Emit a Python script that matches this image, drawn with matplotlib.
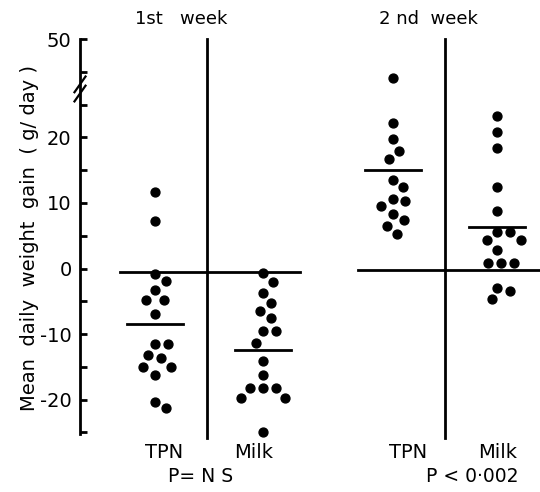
import numpy as np
import matplotlib.pyplot as plt

# values (g/day); axis is broken above 25
tpn_w1 = [11.7, 7.3, -0.8, -1.9, -3.3, -4.8, -4.8, -7.0, -11.5, -11.5,
          -13.2, -13.7, -15.0, -15.0, -16.3, -20.3, -21.3]
milk_w1 = [-0.7, -2.0, -3.7, -5.3, -6.5, -7.6, -9.6, -9.6, -11.3, -14.1,
           -16.3, -18.3, -18.3, -18.3, -19.8, -19.8, -24.9]
tpn_w2 = [29.0, 22.2, 19.7, 18.0, 16.7, 13.5, 12.4, 10.6, 10.3, 9.6,
          8.3, 7.4, 6.5, 5.2]
milk_w2 = [23.3, 20.9, 18.4, 12.5, 8.8, 5.5, 5.5, 4.4, 4.4, 2.8,
           0.9, 0.9, 0.9, -2.9, -3.5, -4.7]
groups = [tpn_w1, milk_w1, tpn_w2, milk_w2]
means = [-8.5, -12.4, 15.0, 6.3]
group_labels = ['TPN', 'Milk', 'TPN', 'Milk']
weeks = ['1st   week', '2 nd  week']
p_values = ['P= N S', 'P < 0·002']
zero_lines = [-0.6, -0.3]

major_ticks = [-20, -10, 0, 10, 20, 50]
minor_ticks = [-25, -15, -5, 5, 15, 25, 45]

# layout
pos = [1.0, 2.0, 3.2, 4.17]
dividers = [1.48, 3.685]
px_x, px_y = 108.0, 6.55   # pixels per data unit
gap = 13.0                 # min distance between dot centres (px)


def brk(v):
    # squeeze out 30..45 on the broken axis
    v = np.asarray(v, dtype=float)
    return np.where(v >= 30, v - 15, v)


def swarm(vals):
    # simple beeswarm: put each dot as near the centre as it fits
    placed = []
    for v in vals:
        y = v * px_y
        cands = [0.0]
        for (xo, yo) in placed:
            dy = abs(y - yo)
            if dy < gap:
                dx = np.sqrt(gap**2 - dy**2)
                cands += [xo + dx, xo - dx]
        cands.sort(key=abs)
        for c in cands:
            if all((c - xo)**2 + (y - yo)**2 >= gap**2 - 1e-6 for xo, yo in placed):
                placed.append((c, y))
                break
    return np.array([p[0] for p in placed]) / px_x


plt.rcParams['font.family'] = 'DejaVu Sans'
fig = plt.figure(figsize=(5.4, 4.92), dpi=100)
ax = fig.add_axes([80/540, 1-434.3/492, 460/540, (434.3-39.15)/492])
ax.set_xlim(1 - 75/108, 1 + 385/108)
ax.set_ylim(-25.3, 35)

for x0, vals in zip(pos, groups):
    off = swarm(vals)
    ax.plot(x0 + off, brk(vals), 'o', color='black', markersize=6.4, clip_on=False)

for x0, m in zip(pos, means):
    ax.plot([x0 - 0.26, x0 + 0.26], [m, m], color='black', lw=2)

for d in dividers:
    ax.plot([d, d], [35, -25.8], color='black', lw=2, clip_on=False)
ax.plot([0.68, 2.34], [zero_lines[0]]*2, color='black', lw=2)
ax.plot([2.88, 4.5648], [zero_lines[1]]*2, color='black', lw=2, clip_on=False)

# axis
for s in ['top', 'right', 'bottom']:
    ax.spines[s].set_visible(False)
ax.spines['left'].set_linewidth(2)
ax.set_xticks([])
ax.set_yticks(brk(major_ticks), [str(t) for t in major_ticks])
ax.set_yticks(brk(minor_ticks), minor=True)
ax.tick_params(axis='y', which='both', direction='in', length=5, width=2,
               labelsize=14, pad=6)

# break marks
tr = ax.get_yaxis_transform()
for dy in [-0.7, 0.7]:
    ax.plot([-0.012, 0.012], [26.2 + dy, 28.6 + dy], color='black', lw=1.6,
            transform=tr, clip_on=False)

fig.text(30/540, 1-238/492, 'Mean  daily  weight  gain  ( g/ day )',
         rotation=90, ha='center', va='center', fontsize=14)

fig.text(181/540, 1-19/492, weeks[0], ha='center', va='center', fontsize=13)
fig.text(428/540, 1-19/492, weeks[1], ha='center', va='center', fontsize=13)

lab_x = [164, 254, 408, 498]
for lx, lab in zip(lab_x, group_labels):
    fig.text(lx/540, 1-452/492, lab, ha='center', va='center', fontsize=14)
fig.text(201/540, 1-477/492, p_values[0], ha='center', va='center', fontsize=13.5)
fig.text(472/540, 1-477/492, p_values[1], ha='center', va='center', fontsize=13.5)

fig.savefig('out.png', dpi=100)
